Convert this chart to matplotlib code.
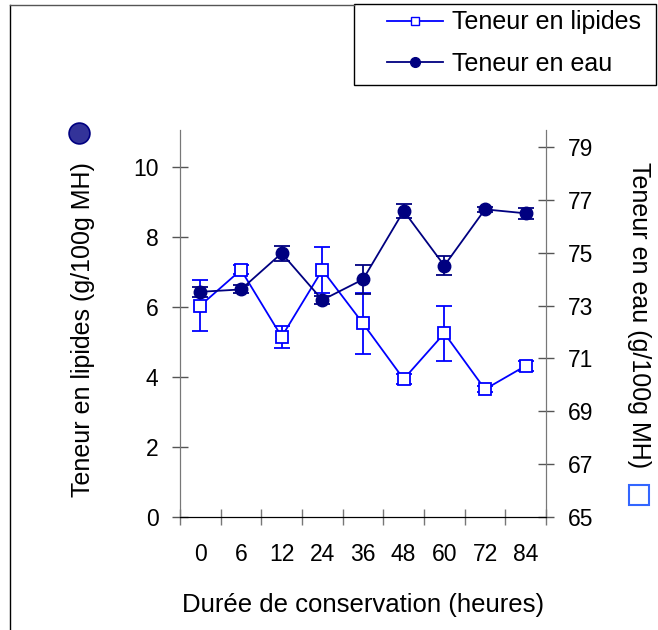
import matplotlib
matplotlib.use("Agg")
import matplotlib.pyplot as plt
from matplotlib.lines import Line2D
from matplotlib.patches import Rectangle
import numpy as np

plt.rcParams['font.family'] = ['Liberation Sans', 'DejaVu Sans']

# data
heures = ['0', '6', '12', '24', '36', '48', '60', '72', '84']
lipides = [6.04, 7.06, 5.15, 7.06, 5.53, 3.94, 5.25, 3.65, 4.32]
lipides_err = [0.72, 0.13, 0.32, 0.66, 0.86, 0.15, 0.78, 0.08, 0.15]
eau = [73.52, 73.61, 74.98, 73.21, 73.99, 76.58, 74.51, 76.64, 76.49]
eau_err = [0.20, 0.15, 0.28, 0.15, 0.55, 0.25, 0.35, 0.10, 0.20]

BLUE = '#0000FF'
NAVY = '#000080'

fig = plt.figure(figsize=(6.58, 6.3), dpi=100)
ax = fig.add_axes([180/658, 1 - 517/630, 366/658, 387/630])
ax2 = ax.twinx()

x = np.arange(len(heures))

ax.errorbar(x, lipides, yerr=lipides_err, color=BLUE, marker='s', ms=8,
            mfc='white', mec=BLUE, mew=1.3, lw=1.3, capsize=6, capthick=1.3,
            elinewidth=1.3)
ax2.errorbar(x, eau, yerr=eau_err, color=NAVY, marker='o', ms=9,
             mfc=NAVY, mec=NAVY, lw=1.3, capsize=6, capthick=1.3,
             elinewidth=1.3)

ax.set_xlim(-0.5, len(heures) - 0.5)
ax.set_ylim(0, 387/35)
ax2.set_ylim(65, 65 + 387/26.43)

ax.set_yticks(np.arange(0, 11, 2))
ax2.set_yticks(np.arange(65, 80, 2))
ax.set_xticks(x)
ax.set_xticklabels(heures)
ax.set_xticks(np.arange(-0.5, len(heures)), minor=True)

ax.tick_params(axis='x', which='major', length=0, pad=19, labelsize=16.5)
ax.tick_params(axis='x', which='minor', direction='inout', length=11, width=1, color='#777777')
ax.tick_params(axis='y', direction='inout', length=11, width=1, color='#555555', labelsize=16.5, pad=10)
ax2.tick_params(axis='y', direction='inout', length=11, width=1, color='#555555', labelsize=16.5, pad=10)

for a in (ax, ax2):
    a.spines['top'].set_visible(False)
    a.spines['left'].set_color('#777777')
    a.spines['right'].set_color('#777777')
    a.spines['bottom'].set_color('black')
    a.patch.set_visible(False)

fig.text(83/658, 1 - 330/630, 'Teneur en lipides (g/100g MH)', rotation=90,
         ha='center', va='center', fontsize=18)
fig.text(639/658, 1 - 315/630, 'Teneur en eau (g/100g MH)', rotation=-90,
         ha='center', va='center', fontsize=18)
fig.text(363/658, 1 - 605/630, 'Durée de conservation (heures)',
         ha='center', va='center', fontsize=18.5)

# outer frame (left + top)
fig.add_artist(Line2D([10/658, 10/658], [0, 1 - 5/630], color='black', lw=1))
fig.add_artist(Line2D([10/658, 354/658], [1 - 5/630, 1 - 5/630], color='#555555', lw=1))

# series symbols next to axis titles
fig.add_artist(Line2D([79/658], [1 - 133/630], marker='o', ms=15,
                      mfc='#333399', mec=NAVY, mew=1.2, ls='none'))
fig.add_artist(Line2D([639/658], [1 - 495/630], marker='s', ms=14,
                      mfc='white', mec='#3366FF', mew=1.5, ls='none'))

# legend box
fig.add_artist(Rectangle((354/658, 1 - 85/630), 302/658, 81/630,
                         transform=fig.transFigure, fill=False,
                         edgecolor='black', lw=1))
handles = [Line2D([], [], color=BLUE, marker='s', ms=6, mfc='white', mec=BLUE, lw=1.3),
           Line2D([], [], color=NAVY, marker='o', ms=7, mfc=NAVY, mec=NAVY, lw=1.3)]
leg = fig.legend(handles, ['Teneur en lipides', 'Teneur en eau'],
                 loc='center left', bbox_to_anchor=(387/658, 1 - 43/630),
                 fontsize=18, frameon=False, borderaxespad=0, borderpad=0,
                 handlelength=2.25, handletextpad=0.35, labelspacing=0.7)

fig.savefig('out.png', dpi=100)
